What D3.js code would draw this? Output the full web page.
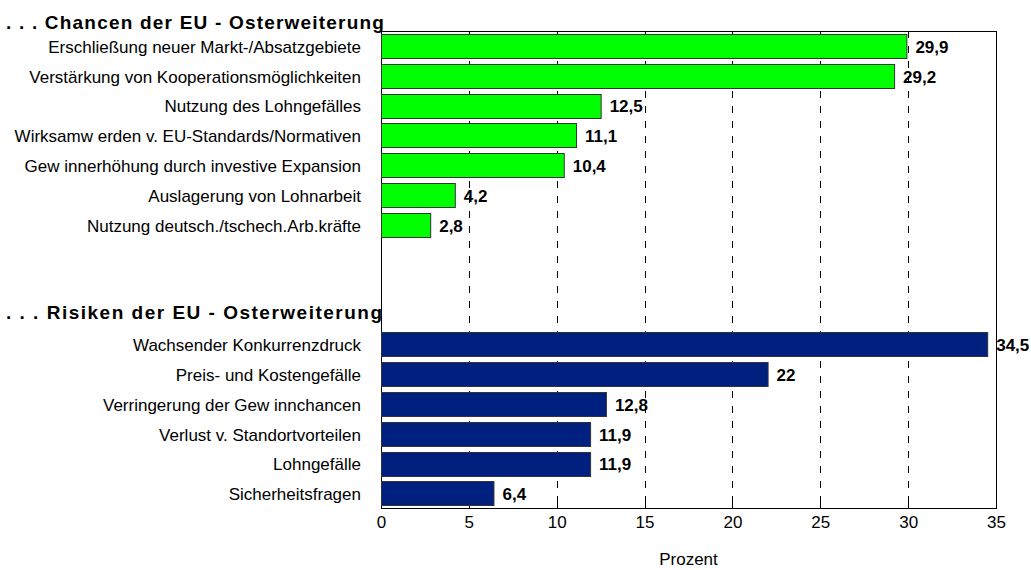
<!DOCTYPE html>
<html>
<head>
<meta charset="utf-8">
<script src="https://cdn.jsdelivr.net/npm/d3@7"></script>
<style>
  body { margin: 0; background: #fff; }
  svg { display: block; font-family: "Liberation Sans", Arial, sans-serif; }
</style>
</head>
<body>
<svg id="chart" width="1031" height="570"></svg>
<script>
const chancenHeader = '. . .  Chancen der EU - Osterweiterung';
const risikenHeader = '. . .  Risiken der EU - Osterweiterung';

const chancenLabels = [
  'Erschließung neuer Markt-/Absatzgebiete',
  'Verstärkung von Kooperationsmöglichkeiten',
  'Nutzung des Lohngefälles',
  'Wirksamw erden v. EU-Standards/Normativen',
  'Gew innerhöhung durch investive Expansion',
  'Auslagerung von Lohnarbeit',
  'Nutzung deutsch./tschech.Arb.kräfte'
];
const chancenValues = [29.9, 29.2, 12.5, 11.1, 10.4, 4.2, 2.8];

const risikenLabels = [
  'Wachsender Konkurrenzdruck',
  'Preis- und Kostengefälle',
  'Verringerung der Gew innchancen',
  'Verlust v. Standortvorteilen',
  'Lohngefälle',
  'Sicherheitsfragen'
];
const risikenValues = [34.5, 22, 12.8, 11.9, 11.9, 6.4];

const xTicks = [0, 5, 10, 15, 20, 25, 30, 35];

// rows: chancen, two empty rows, the risiken header row, then risiken
const rows = [
  ...chancenLabels.map((l, i) => ({ key: 'c' + i, label: l, value: chancenValues[i], color: '#00ff00' })),
  { key: 'gap1' }, { key: 'gap2' }, { key: 'head' },
  ...risikenLabels.map((l, i) => ({ key: 'r' + i, label: l, value: risikenValues[i], color: '#002080' }))
];

const svg = d3.select('#chart');
const plot = { left: 381, right: 996, top: 31, bottom: 508 };

const x = d3.scaleLinear().domain([0, 35]).range([plot.left, plot.right]);
const y = d3.scaleBand().domain(rows.map(r => r.key))
  .range([plot.top, plot.bottom]).paddingInner(0.21).paddingOuter(0.1);

const fmt = v => String(v).replace('.', ',');

// dashed gridlines
svg.append('g').selectAll('line')
  .data(xTicks.filter(t => t > 0 && t < 35))
  .join('line')
  .attr('x1', d => Math.round(x(d)) + 0.5).attr('x2', d => Math.round(x(d)) + 0.5)
  .attr('y1', plot.top).attr('y2', plot.bottom)
  .attr('stroke', '#000').attr('stroke-width', 1)
  .attr('stroke-dasharray', '7 8');

// plot frame
svg.append('rect')
  .attr('x', plot.left + 0.5).attr('y', plot.top + 0.5)
  .attr('width', plot.right - plot.left).attr('height', plot.bottom - plot.top)
  .attr('fill', 'none').attr('stroke', '#000');

// inside tick marks, bottom and top
const ticks = svg.append('g').attr('stroke', '#000');
ticks.selectAll('line.b')
  .data(xTicks)
  .join('line').attr('class', 'b')
  .attr('x1', d => Math.round(x(d)) + 0.5).attr('x2', d => Math.round(x(d)) + 0.5)
  .attr('y1', plot.bottom - 5).attr('y2', plot.bottom);
ticks.selectAll('line.t')
  .data(xTicks)
  .join('line').attr('class', 't')
  .attr('x1', d => Math.round(x(d)) + 0.5).attr('x2', d => Math.round(x(d)) + 0.5)
  .attr('y1', plot.top).attr('y2', plot.top + 4);

const barRows = rows.filter(r => r.value != null);

svg.append('g').selectAll('rect')
  .data(barRows)
  .join('rect')
  .attr('x', x(0) + 0.5)
  .attr('y', d => Math.round(y(d.key)) + 0.5)
  .attr('width', d => x(d.value) - x(0))
  .attr('height', Math.round(y.bandwidth()))
  .attr('fill', d => d.color)
  .attr('stroke', '#333').attr('stroke-width', 1);

// value labels
svg.append('g').selectAll('text')
  .data(barRows)
  .join('text')
  .attr('x', d => x(d.value) + 9)
  .attr('y', d => y(d.key) + y.bandwidth() / 2 + 1)
  .attr('dy', '0.35em')
  .attr('font-size', 17).attr('font-weight', 'bold')
  .text(d => fmt(d.value));

// category labels
svg.append('g').selectAll('text')
  .data(barRows)
  .join('text')
  .attr('x', 361)
  .attr('y', d => y(d.key) + y.bandwidth() / 2 + 1)
  .attr('dy', '0.35em')
  .attr('text-anchor', 'end')
  .attr('font-size', 17)
  .text(d => d.label);

// section headers
svg.append('text')
  .attr('x', 6).attr('y', 22).attr('dy', '0.35em')
  .attr('font-size', 19).attr('font-weight', 'bold')
  .attr('letter-spacing', 1.2)
  .text(chancenHeader);

svg.append('text')
  .attr('x', 6).attr('y', y('head') + y.bandwidth() / 2 - 2).attr('dy', '0.35em')
  .attr('font-size', 19).attr('font-weight', 'bold')
  .attr('letter-spacing', 1.5)
  .text(risikenHeader);

// x axis labels
const xAxis = svg.append('g')
  .attr('transform', `translate(0,${plot.bottom})`)
  .call(d3.axisBottom(x).tickValues(xTicks).tickSize(0).tickPadding(8).tickFormat(d3.format('d')));
xAxis.select('.domain').remove();
xAxis.selectAll('text')
  .attr('font-size', 17)
  .attr('font-family', '"Liberation Sans", Arial, sans-serif')
  .attr('fill', '#000');

svg.append('text')
  .attr('x', (plot.left + plot.right) / 2).attr('y', 559)
  .attr('text-anchor', 'middle').attr('dy', '0.35em')
  .attr('font-size', 17)
  .text('Prozent');
</script>
</body>
</html>
